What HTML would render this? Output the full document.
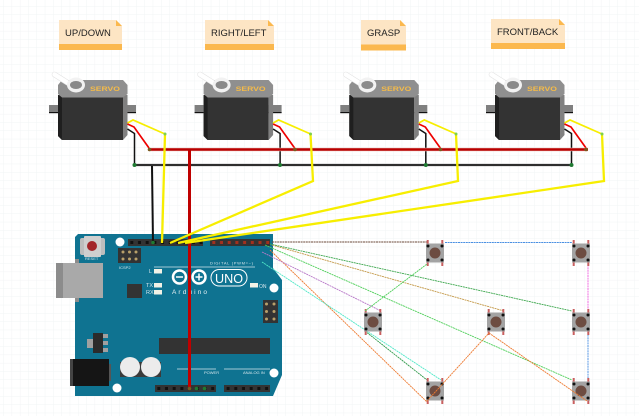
<!DOCTYPE html>
<html><head><meta charset="utf-8"><style>
html,body{margin:0;padding:0;background:#fff;width:639px;height:416px;overflow:hidden}
svg{display:block;filter:blur(.3px)}
text{font-family:"Liberation Sans",sans-serif}
</style></head><body>
<svg width="639" height="416" viewBox="0 0 639 416" xmlns="http://www.w3.org/2000/svg">
<defs>
<pattern id="grid" x="3.3" y="6" width="8.3" height="8.3" patternUnits="userSpaceOnUse"><path d="M8.3 0H0V8.3" fill="none" stroke="#f1f4f5" stroke-width="1"/></pattern>
<g id="servo">
<path d="M58 95V136L62 140H123V95Z" fill="#333"/>
<path d="M58 95V136L62 140V97Z" fill="#1f1f1f"/>
<rect x="49" y="105" width="9" height="8" fill="#808080"/><rect x="49" y="112" width="9" height="1.2" fill="#111"/>
<rect x="123" y="105" width="13" height="8" fill="#808080"/><rect x="123" y="112" width="13" height="1.2" fill="#111"/>
<path d="M123 95H127.5V135L123 140Z" fill="#808080"/>
<path d="M58 85L62 80H123L127.5 85V94L123 97.500H62L58 94Z" fill="#8f8f8f"/>
<path d="M54.500 74.500L76 88" stroke="#e2e2e2" stroke-width="5.500" stroke-linecap="round"/>
<path d="M54.500 74.500L76 88" stroke="#fff" stroke-width="4.500" stroke-linecap="round"/>
<ellipse cx="76" cy="85" rx="9" ry="7.500" fill="#f2f2f2"/><ellipse cx="76" cy="85" rx="6" ry="4" fill="#8a8a8a"/>
<text x="90" y="91" font-size="6.600" font-weight="700" fill="#f5bb48" textLength="30" lengthAdjust="spacingAndGlyphs">SERVO</text>
<path d="M127.500 123L133 120L165 134" fill="none" stroke="#f7ee00" stroke-width="1.700"/>
<path d="M127.500 124L134 127L149 148" fill="none" stroke="#e00" stroke-width="1.700"/>
<path d="M127.500 129L134.500 133.500L134.500 165" fill="none" stroke="#111" stroke-width="1.500"/>
</g>
<g id="btn">
<rect x="-8.300" y="-13" width="2" height="4" fill="#c95f5f"/><rect x="6.300" y="-13" width="2" height="4" fill="#c95f5f"/>
<rect x="-8.300" y="9" width="2" height="4" fill="#c95f5f"/><rect x="6.300" y="9" width="2" height="4" fill="#c95f5f"/>
<rect x="-9" y="-9.500" width="18" height="19" fill="#a3a3a3"/>
<circle r="5.500" fill="#6d4c41"/>
<circle cx="-7" cy="-7" r="1.500" fill="#111"/><circle cx="7" cy="-7" r="1.500" fill="#111"/><circle cx="-7" cy="7" r="1.500" fill="#111"/><circle cx="7" cy="7" r="1.500" fill="#111"/>
</g>
<pattern id="hdr" x="128" y="239" width="7.700" height="7" patternUnits="userSpaceOnUse"><rect x="2.300" y="2" width="3" height="3" fill="#111"/></pattern>
<pattern id="hdrb" x="155" y="385" width="7.700" height="7" patternUnits="userSpaceOnUse"><rect x="2.300" y="2" width="3" height="3" fill="#111"/></pattern>
<pattern id="hdrr" x="210" y="239" width="7.700" height="7" patternUnits="userSpaceOnUse"><rect x="2.300" y="2" width="3" height="3" fill="#a3301e"/></pattern>
</defs>
<rect width="639" height="416" fill="#fff"/>
<rect width="639" height="416" fill="url(#grid)"/>

<path d="M59 20H116L122 26V50H59Z" fill="#fde5c4"/><path d="M116 20L122 26H116Z" fill="#fbb84e"/><rect x="59" y="44" width="63" height="6" fill="#fbb84e"/>
<text x="65" y="36" font-size="9.500" fill="#222">UP/DOWN</text>
<path d="M205 20H268L274 26V50H205Z" fill="#fde5c4"/><path d="M268 20L274 26H268Z" fill="#fbb84e"/><rect x="205" y="44" width="69" height="6" fill="#fbb84e"/>
<text x="211" y="36" font-size="9.500" fill="#222">RIGHT/LEFT</text>
<path d="M361 20H400L406 26V50.500H361Z" fill="#fde5c4"/><path d="M400 20L406 26H400Z" fill="#fbb84e"/><rect x="361" y="44.500" width="45" height="6" fill="#fbb84e"/>
<text x="367" y="36" font-size="9.500" fill="#222">GRASP</text>
<path d="M491 19H559L565 25V49H491Z" fill="#fde5c4"/><path d="M559 19L565 25H559Z" fill="#fbb84e"/><rect x="491" y="43" width="74" height="6" fill="#fbb84e"/>
<text x="497" y="35" font-size="9.500" fill="#222">FRONT/BACK</text>

<use href="#servo"/>
<use href="#servo" x="145.600"/>
<use href="#servo" x="291.300"/>
<use href="#servo" x="437"/>

<path d="M78 234H273V268L282 280V375L273 396H75V237Z" fill="#0f7391"/>
<rect x="75" y="259" width="4" height="43" fill="#8c8c8c"/>
<rect x="56" y="263" width="47" height="35" fill="#a9a9a9"/><rect x="56" y="263" width="7" height="35" fill="#8c8c8c"/>
<rect x="70" y="359" width="39" height="27" fill="#151515"/><rect x="70" y="359" width="3" height="27" fill="#444"/><rect x="109" y="364" width="2" height="17" fill="#555"/>
<rect x="80" y="238" width="25" height="17" rx="2" fill="#bdbdbd"/><rect x="84" y="236" width="17" height="21" rx="1" fill="#cfcfcf"/><circle cx="92" cy="246" r="5" fill="#a3262a"/>
<text x="85" y="260" font-size="4" fill="#d5e6ec">RESET</text>
<circle cx="120" cy="242" r="4.500" fill="#fff"/><circle cx="274" cy="288" r="4.500" fill="#fff"/><circle cx="274" cy="373" r="4.500" fill="#fff"/><circle cx="117" cy="388" r="4.500" fill="#fff"/>
<rect x="118" y="248" width="23" height="15" fill="#333"/>
<g fill="#b8a06a"><circle cx="123" cy="252" r="1.500"/><circle cx="129.500" cy="252" r="1.500"/><circle cx="136" cy="252" r="1.500"/><circle cx="123" cy="259" r="1.500"/><circle cx="129.500" cy="259" r="1.500"/><circle cx="136" cy="259" r="1.500"/></g>
<text x="119" y="269" font-size="4" fill="#d5e6ec">ICSP2</text>
<rect x="127" y="284" width="15" height="14" fill="#333"/>
<rect x="159" y="338" width="111" height="16" fill="#333"/>
<rect x="93" y="333" width="10" height="20" fill="#2b2b2b"/><rect x="87" y="339" width="6" height="9" fill="#a0a0a0"/><rect x="103" y="334" width="5" height="4" fill="#a0a0a0"/><rect x="103" y="341" width="5" height="4" fill="#a0a0a0"/><rect x="103" y="348" width="5" height="4" fill="#a0a0a0"/>
<rect x="263" y="300" width="15" height="23" fill="#333"/>
<g fill="#b8a06a"><circle cx="266.500" cy="304" r="1.500"/><circle cx="274" cy="304" r="1.500"/><circle cx="266.500" cy="311.500" r="1.500"/><circle cx="274" cy="311.500" r="1.500"/><circle cx="266.500" cy="319" r="1.500"/><circle cx="274" cy="319" r="1.500"/></g>
<rect x="120" y="362" width="41" height="15" fill="#3b3b3b"/>
<circle cx="130" cy="367" r="10" fill="#ececec"/><circle cx="151" cy="367" r="10" fill="#ececec"/>
<rect x="128" y="239" width="75" height="7" fill="#333"/><rect x="128" y="239" width="75" height="7" fill="url(#hdr)"/>
<rect x="210" y="239" width="60" height="7" fill="#333"/><rect x="210" y="239" width="60" height="7" fill="url(#hdrr)"/>
<rect x="155" y="385" width="61" height="7" fill="#333"/><rect x="155" y="385" width="61" height="7" fill="url(#hdrb)"/>
<rect x="224" y="385" width="46" height="7" fill="#333"/><rect x="224" y="385" width="46" height="7" fill="url(#hdrb)"/>
<circle cx="196.500" cy="388.500" r="1.800" fill="#1f7a32"/><circle cx="204.500" cy="388.500" r="1.800" fill="#1f7a32"/>
<g fill="#d5e6ec" font-size="4">
<text x="210" y="264.500" textLength="43">DIGITAL (PWM=~)</text>
<text x="149" y="273" font-size="5">L</text>
<text x="146" y="287" font-size="5.500">TX</text>
<text x="146" y="294" font-size="5.500">RX</text>
<text x="259" y="288" font-size="5">ON</text>
<text x="204" y="374">POWER</text>
<text x="243" y="374">ANALOG IN</text>
</g>
<rect x="154" y="269" width="8" height="4.500" fill="#f2f2e6"/><rect x="154" y="283" width="8" height="4.500" fill="#f2f2e6"/><rect x="154" y="290" width="8" height="4.500" fill="#f2f2e6"/><rect x="250" y="283" width="8" height="4.500" fill="#f2f2e6"/>
<path d="M154 267H255" stroke="#d5e6ec" stroke-width="0.800"/>
<path d="M177 369H216M224 369H270" stroke="#d5e6ec" stroke-width="0.800"/>
<circle cx="179.500" cy="277" r="6.500" fill="none" stroke="#fff" stroke-width="2.500"/><circle cx="199" cy="277" r="6.500" fill="none" stroke="#fff" stroke-width="2.500"/>
<path d="M176 277H183M195.500 277H202.500M199 273.500V280.500" stroke="#fff" stroke-width="1.500"/>
<rect x="211" y="269.500" width="36" height="16.500" rx="8.200" fill="none" stroke="#fff" stroke-width="1"/>
<text x="215" y="283" font-size="13" fill="#fff" textLength="28" lengthAdjust="spacingAndGlyphs">UNO</text>
<text x="172" y="294" font-size="6.500" fill="#e6f1f4" textLength="35">Arduino</text>

<path d="M149 149.500H588" stroke="#f0c8c0" stroke-width="3.600"/>
<path d="M149 149.500H588" stroke="#b80000" stroke-width="2.600"/>
<path d="M134 165H572" stroke="#bbb" stroke-width="2.800"/>
<path d="M134 165H572" stroke="#1a1a1a" stroke-width="1.800"/>
<path d="M152 166L153 243" stroke="#111" stroke-width="2"/>
<path d="M189.500 150V387" stroke="#bf0000" stroke-width="3"/>
<g fill="none" stroke="#f7ee00" stroke-width="2.300">
<path d="M165 134L162 243"/>
<path d="M310.500 134L313 181L170 243"/>
<path d="M456 134L458 181L178 243"/>
<path d="M602 134L604 181L185 243"/>
</g>
<g fill="#1f7a32"><circle cx="134.500" cy="165" r="2"/><circle cx="280" cy="165" r="2"/><circle cx="425.800" cy="165" r="2"/><circle cx="571.500" cy="165" r="2"/><circle cx="153" cy="242.500" r="1.800"/></g>
<g fill="#7a5a1e"><circle cx="149.500" cy="149.500" r="1.800"/><circle cx="295" cy="149.500" r="1.800"/><circle cx="440.500" cy="149.500" r="1.800"/><circle cx="586" cy="149.500" r="1.800"/><circle cx="189.500" cy="388.500" r="1.800"/></g>
<g fill="#7ed04a"><circle cx="165" cy="134" r="1.500"/><circle cx="310.500" cy="134" r="1.500"/><circle cx="456" cy="134" r="1.500"/><circle cx="602" cy="134" r="1.500"/></g>
<g fill="none" stroke-width="0.900" stroke-dasharray="2 0.600">
<path d="M272 242H427" stroke="#6b4a3a"/>
<path d="M445 242.500H572" stroke="#4a90e2"/>
<path d="M588 262V312" stroke="#f062e0"/>
<path d="M588 332V381" stroke="#4a90e2"/>
<path d="M270 244L572 311" stroke="#3fa850"/>
<path d="M272 245L504 311" stroke="#c49a4a"/>
<path d="M265 245L572 380" stroke="#4fcf5a"/>
<path d="M270 250L427 402" stroke="#ee7a30"/>
<path d="M262 252L381 311" stroke="#b878c8"/>
<path d="M262 262L441 380" stroke="#4fe8c8"/>
<path d="M365 331L427 380" stroke="#2f9a4a"/>
</g>
<use href="#btn" x="435" y="253"/>
<use href="#btn" x="581" y="253"/>
<use href="#btn" x="373" y="322"/>
<use href="#btn" x="496" y="322"/>
<use href="#btn" x="581" y="322"/>
<use href="#btn" x="435" y="391"/>
<use href="#btn" x="581" y="391"/>
<g fill="none" stroke-width="0.900" stroke-dasharray="2 0.600">
<path d="M365 311L427 264" stroke="#4fcf5a"/>
<path d="M427 401L489 333" stroke="#ee7a30"/>
<path d="M489 333L587 401" stroke="#ee7a30"/>
</g>
</svg>
</body></html>
